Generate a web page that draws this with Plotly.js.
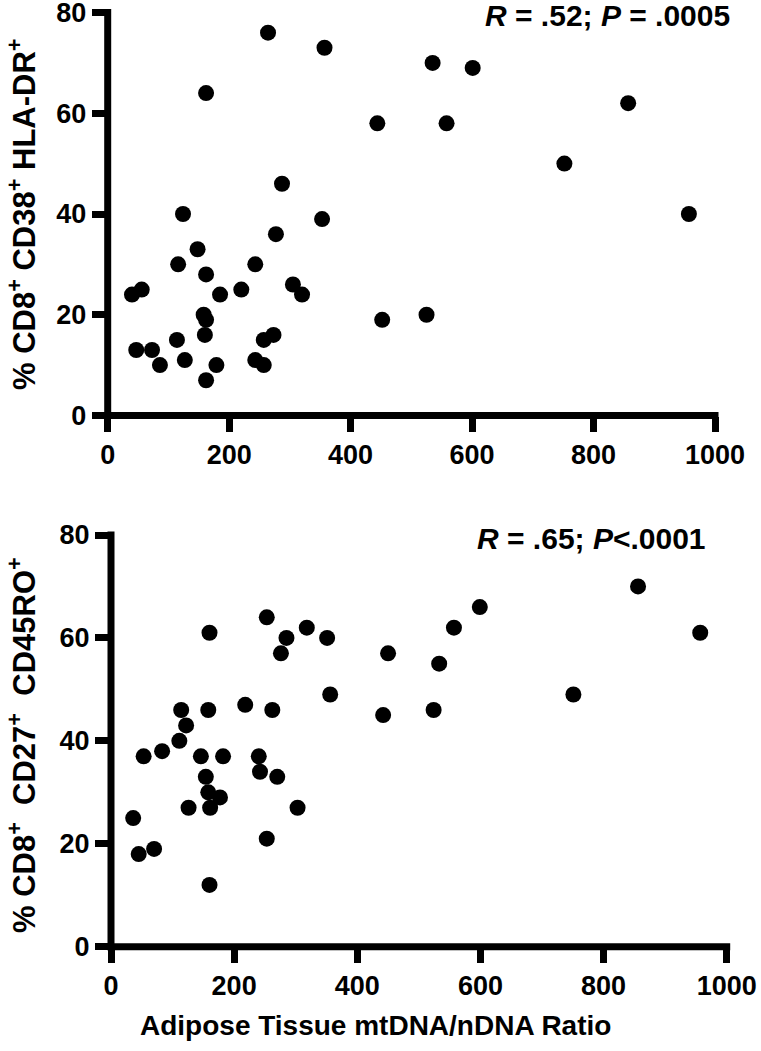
<!DOCTYPE html>
<html>
<head>
<meta charset="utf-8">
<script src="https://cdn.plot.ly/plotly-3.0.1.min.js"></script>
<style>html,body{margin:0;padding:0;background:#fff;}#chart{width:761px;height:1051px;}</style>
</head>
<body>
<div id="chart"></div>
<script>
// Top panel: Adipose mtDNA/nDNA ratio vs % CD8+ CD38+ HLA-DR+
const topX = [264, 357, 162, 444, 287, 124, 353, 277, 148, 535, 601, 558, 857, 752, 957,
              40, 56, 116, 162, 185, 220, 243, 305, 320, 158, 162, 160, 114, 47, 73,
              86, 127, 162, 179, 243, 257, 257, 273, 452, 525];
const topY = [76, 73, 64, 58, 46, 40, 39, 36, 33, 70, 69, 58, 62, 50, 40,
              24, 25, 30, 28, 24, 25, 30, 26, 24, 20, 19, 16, 15, 13, 13,
              10, 11, 7, 10, 11, 10, 15, 16, 19, 20];
// Bottom panel: Adipose mtDNA/nDNA ratio vs % CD8+ CD27+ CD45RO+
const botX = [253, 160, 285, 318, 351, 276, 356, 442, 114, 158, 218, 262, 122, 111,
              856, 599, 557, 957, 450, 533, 751, 524,
              53, 83, 146, 182, 240, 242, 154, 270, 158, 177, 126, 161, 303, 36, 253, 45, 70, 160];
const botY = [64, 61, 60, 62, 60, 57, 49, 45, 46, 46, 47, 46, 43, 40,
              70, 66, 62, 61, 57, 55, 49, 46,
              37, 38, 37, 37, 37, 34, 33, 33, 30, 29, 27, 27, 27, 25, 21, 18, 19, 12];
const xTicks = [0, 200, 400, 600, 800, 1000];
const yTicks = [0, 20, 40, 60, 80];
const topYTitle = '% CD8<sup>+</sup> CD38<sup>+</sup> HLA-DR<sup>+</sup>';
const botYTitle = '% CD8<sup>+</sup>  CD27<sup>+</sup>  CD45RO<sup>+</sup>';
const xTitle = 'Adipose Tissue mtDNA/nDNA Ratio';
const topStat = '<i>R</i> = .52; <i>P</i> = .0005';
const botStat = '<i>R</i> = .65; <i>P</i>&lt;.0001';

const W = 761, H = 1051;
const px = v => v / W;
const py = v => 1 - v / H;
const FONT = 'Liberation Sans, Arial, sans-serif';
const LW = 7;

// plot-area pixel boxes [left, right, top, bottom]
const topBox = [107.7, 715, 12.5, 415.5];
const botBox = [111, 726.7, 535, 946.7];

const marker = {size: 16, color: '#000', line: {width: 0}};
const traces = [
  {x: topX, y: topY, type: 'scatter', mode: 'markers', marker: marker, xaxis: 'x', yaxis: 'y', cliponaxis: false, hoverinfo: 'x+y'},
  {x: botX, y: botY, type: 'scatter', mode: 'markers', marker: marker, xaxis: 'x2', yaxis: 'y2', cliponaxis: false, hoverinfo: 'x+y'}
];

function axis(extra) {
  return Object.assign({
    showgrid: false, zeroline: false, showline: false,
    ticks: 'outside', ticklen: 15, tickwidth: LW, tickcolor: '#000',
    ticklabeloverflow: 'allow',
    tickfont: {family: FONT, size: 27, color: '#000', weight: 'bold'},
    fixedrange: true
  }, extra);
}

// axis lines centred on the zero positions (Prism-style), drawn in paper space so they are not clipped
function axisLines(b) {
  const h = LW / 2;
  return [
    {type: 'line', xref: 'paper', yref: 'paper', x0: px(b[0]), x1: px(b[0]), y0: py(b[3] + h), y1: py(b[2] - h), line: {color: '#000', width: LW}, layer: 'above'},
    {type: 'line', xref: 'paper', yref: 'paper', x0: px(b[0] - h), x1: px(b[1] + h), y0: py(b[3]), y1: py(b[3]), line: {color: '#000', width: LW}, layer: 'above'}
  ];
}

const layout = {
  width: W, height: H,
  margin: {l: 0, r: 0, t: 0, b: 0},
  paper_bgcolor: '#fff', plot_bgcolor: '#fff',
  showlegend: false,
  font: {family: FONT, color: '#000'},
  xaxis: axis({domain: [px(topBox[0]), px(topBox[1])], range: [0, 1000], tickvals: xTicks, anchor: 'y'}),
  yaxis: axis({domain: [py(topBox[3]), py(topBox[2])], range: [0, 80], tickvals: yTicks, anchor: 'x'}),
  xaxis2: axis({domain: [px(botBox[0]), px(botBox[1])], range: [0, 1000], tickvals: xTicks, anchor: 'y2'}),
  yaxis2: axis({domain: [py(botBox[3]), py(botBox[2])], range: [0, 80], tickvals: yTicks, anchor: 'x2'}),
  shapes: axisLines(topBox).concat(axisLines(botBox)),
  annotations: [
    {text: topYTitle, xref: 'paper', yref: 'paper', x: px(22), y: py(214), textangle: -90,
     showarrow: false, xanchor: 'center', yanchor: 'middle',
     font: {family: FONT, size: 31, weight: 'bold', color: '#000'}},
    {text: botYTitle, xref: 'paper', yref: 'paper', x: px(22), y: py(745), textangle: -90,
     showarrow: false, xanchor: 'center', yanchor: 'middle',
     font: {family: FONT, size: 31, weight: 'bold', color: '#000'}},
    {text: xTitle, xref: 'paper', yref: 'paper', x: px(375), y: py(1025),
     showarrow: false, xanchor: 'center', yanchor: 'middle',
     font: {family: FONT, size: 28, weight: 'bold', color: '#000'}},
    {text: topStat, xref: 'paper', yref: 'paper', x: px(732), y: py(16),
     showarrow: false, xanchor: 'right', yanchor: 'middle',
     font: {family: FONT, size: 30, weight: 'bold', color: '#000'}},
    {text: botStat, xref: 'paper', yref: 'paper', x: px(708), y: py(538),
     showarrow: false, xanchor: 'right', yanchor: 'middle',
     font: {family: FONT, size: 30, weight: 'bold', color: '#000'}}
  ]
};

Plotly.newPlot('chart', traces, layout, {displayModeBar: false, staticPlot: true});
</script>
</body>
</html>
